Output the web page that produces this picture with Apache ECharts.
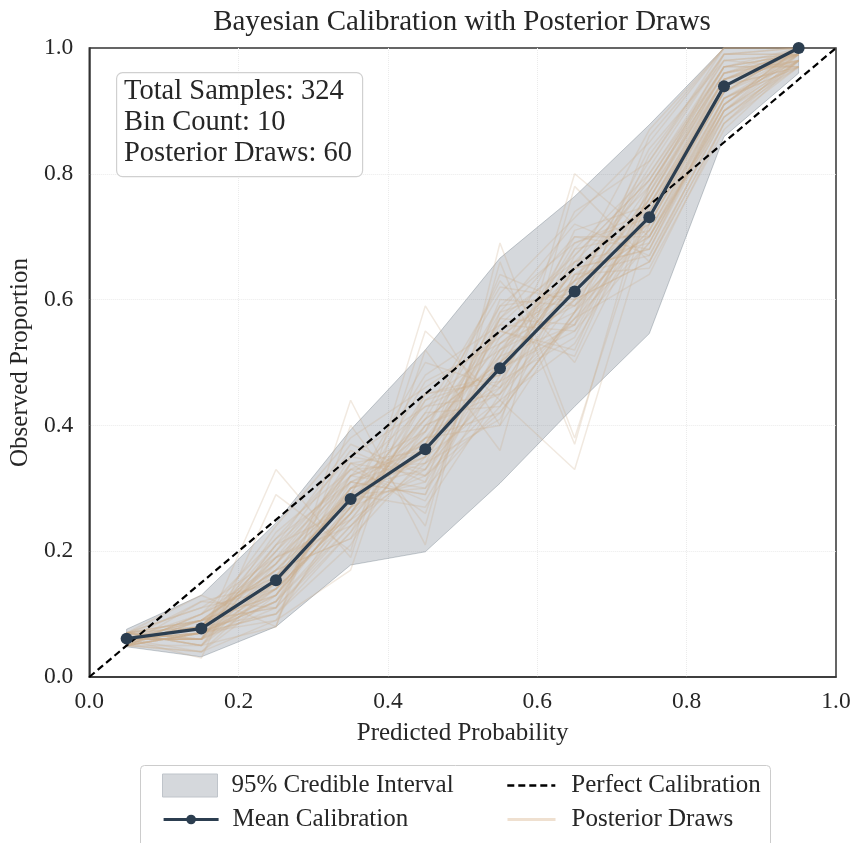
<!DOCTYPE html>
<html>
<head>
<meta charset="utf-8">
<script src="https://cdn.jsdelivr.net/npm/echarts@6/dist/echarts.min.js"></script>
<style>html,body{margin:0;padding:0;background:#fff}#chart{width:854px;height:843px}</style>
</head>
<body>
<div id="chart"></div>
<script>
const binCenters = [0.05,0.15,0.25,0.35,0.45,0.55,0.65,0.75,0.85,0.95];
const meanCalibration = [0.061,0.077,0.154,0.283,0.362,0.491,0.613,0.731,0.939,1.0];
const ciUpper = [0.076,0.130,0.245,0.393,0.520,0.666,0.764,0.878,1.0,1.0];
const ciLower = [0.048,0.032,0.080,0.178,0.199,0.308,0.430,0.546,0.859,0.960];
const perfectX = [0,1];
const tickLabels = ['0.0','0.2','0.4','0.6','0.8','1.0'];
const posteriorDraws = [
[0.06,0.08,0.15,0.29,0.35,0.50,0.60,0.73,0.95,0.99],
[0.05,0.07,0.13,0.27,0.38,0.47,0.63,0.70,0.92,0.98],
[0.07,0.09,0.17,0.30,0.33,0.52,0.58,0.76,0.97,1.00],
[0.06,0.06,0.14,0.25,0.40,0.45,0.66,0.69,0.90,0.97],
[0.05,0.10,0.18,0.32,0.36,0.55,0.61,0.78,0.96,0.99],
[0.06,0.07,0.12,0.28,0.31,0.49,0.56,0.72,0.93,1.00],
[0.07,0.05,0.16,0.26,0.42,0.43,0.64,0.67,0.89,0.98],
[0.06,0.08,0.20,0.31,0.37,0.58,0.62,0.80,0.98,0.99],
[0.05,0.09,0.11,0.24,0.34,0.46,0.57,0.74,0.94,0.97],
[0.06,0.06,0.19,0.33,0.39,0.51,0.68,0.71,0.91,1.00],
[0.07,0.11,0.14,0.29,0.30,0.53,0.59,0.77,0.99,0.99],
[0.06,0.07,0.10,0.23,0.44,0.48,0.65,0.68,0.92,0.98],
[0.05,0.04,0.15,0.34,0.36,0.56,0.55,0.75,0.95,1.00],
[0.06,0.08,0.21,0.27,0.32,0.44,0.67,0.79,0.97,0.97],
[0.07,0.09,0.13,0.30,0.41,0.50,0.60,0.66,0.88,0.99],
[0.06,0.06,0.17,0.22,0.35,0.54,0.63,0.82,1.00,1.00],
[0.05,0.07,0.09,0.28,0.38,0.42,0.58,0.73,0.93,0.98],
[0.06,0.10,0.22,0.31,0.29,0.57,0.70,0.70,0.90,0.99],
[0.07,0.05,0.14,0.26,0.45,0.47,0.54,0.76,0.96,1.00],
[0.06,0.08,0.16,0.35,0.33,0.52,0.66,0.72,0.94,0.97],
[0.05,0.07,0.12,0.25,0.39,0.59,0.61,0.84,0.98,0.99],
[0.06,0.09,0.18,0.29,0.27,0.45,0.57,0.69,0.91,1.00],
[0.07,0.06,0.11,0.32,0.43,0.49,0.69,0.74,0.95,0.98],
[0.06,0.08,0.19,0.24,0.37,0.55,0.52,0.78,0.97,0.99],
[0.05,0.12,0.15,0.30,0.34,0.41,0.64,0.65,0.87,0.98],
[0.06,0.07,0.13,0.27,0.47,0.53,0.62,0.81,0.99,1.00],
[0.07,0.05,0.20,0.36,0.31,0.60,0.59,0.71,0.92,0.97],
[0.06,0.08,0.10,0.21,0.40,0.46,0.71,0.75,0.94,0.99],
[0.05,0.09,0.17,0.28,0.36,0.51,0.56,0.86,1.00,1.00],
[0.06,0.06,0.23,0.33,0.28,0.48,0.65,0.68,0.90,0.98],
[0.07,0.08,0.14,0.26,0.42,0.62,0.60,0.77,0.96,0.99],
[0.06,0.07,0.12,0.31,0.35,0.44,0.53,0.73,0.93,1.00],
[0.05,0.10,0.16,0.29,0.48,0.56,0.67,0.79,0.98,0.97],
[0.06,0.06,0.21,0.37,0.32,0.50,0.63,0.70,0.91,0.99],
[0.07,0.09,0.11,0.23,0.38,0.40,0.58,0.83,0.99,1.00],
[0.06,0.08,0.18,0.34,0.26,0.58,0.72,0.67,0.89,0.98],
[0.05,0.07,0.15,0.27,0.44,0.52,0.61,0.76,0.95,0.99],
[0.06,0.04,0.13,0.30,0.39,0.63,0.50,0.74,0.94,1.00],
[0.07,0.11,0.19,0.25,0.33,0.47,0.68,0.80,0.97,0.97],
[0.06,0.08,0.24,0.38,0.46,0.54,0.64,0.72,0.92,0.99],
[0.05,0.07,0.14,0.32,0.30,0.43,0.57,0.64,0.88,0.98],
[0.06,0.09,0.17,0.28,0.41,0.61,0.73,0.85,1.00,1.00],
[0.07,0.06,0.12,0.24,0.37,0.49,0.55,0.69,0.91,0.99],
[0.06,0.08,0.20,0.33,0.34,0.57,0.66,0.78,0.96,0.98],
[0.05,0.10,0.16,0.29,0.50,0.46,0.62,0.75,0.93,1.00],
[0.06,0.07,0.10,0.26,0.36,0.64,0.59,0.71,0.92,0.97],
[0.07,0.05,0.18,0.31,0.29,0.51,0.74,0.82,0.99,0.99],
[0.06,0.08,0.22,0.35,0.43,0.45,0.60,0.66,0.90,1.00],
[0.05,0.09,0.13,0.27,0.40,0.55,0.51,0.77,0.95,0.98],
[0.06,0.06,0.15,0.30,0.35,0.59,0.69,0.73,0.94,0.99],
[0.07,0.08,0.17,0.22,0.45,0.48,0.65,0.87,1.00,1.00],
[0.06,0.12,0.11,0.34,0.32,0.42,0.58,0.70,0.89,0.97],
[0.05,0.07,0.19,0.29,0.38,0.53,0.63,0.79,0.97,0.99],
[0.06,0.09,0.14,0.26,0.41,0.50,0.70,0.68,0.91,1.00],
[0.07,0.06,0.21,0.32,0.37,0.57,0.56,0.76,0.96,0.98],
[0.06,0.06,0.33,0.19,0.55,0.44,0.33,0.72,0.93,0.99],
[0.05,0.05,0.08,0.44,0.21,0.69,0.38,0.75,0.95,1.00],
[0.06,0.03,0.29,0.20,0.59,0.40,0.80,0.70,0.90,0.98],
[0.07,0.13,0.08,0.40,0.24,0.66,0.37,0.78,0.97,0.99],
[0.05,0.04,0.09,0.17,0.52,0.36,0.78,0.66,0.88,0.97]
];
const annotationLines = ['Total Samples: 324','Bin Count: 10','Posterior Draws: 60'];

const FONT = '"Liberation Serif","DejaVu Serif",serif';
const TEXT = '#262626';
const chart = echarts.init(document.getElementById('chart'), null, {renderer:'canvas'});

const bandColor = 'rgba(44,62,80,0.2)';
const drawColor = 'rgba(205,175,140,0.27)';

const series = [];
series.push({
  name: '95% Credible Interval',
  type: 'custom',
  z: 1,
  clip: true,
  data: [[binCenters[0], ciLower[0]]],
  renderItem: function(params, api) {
    const pts = [];
    for (let i = 0; i < binCenters.length; i++) pts.push(api.coord([binCenters[i], ciUpper[i]]));
    for (let i = binCenters.length - 1; i >= 0; i--) pts.push(api.coord([binCenters[i], ciLower[i]]));
    return { type: 'polygon', shape: { points: pts }, style: { fill: bandColor, stroke: 'rgba(44,62,80,0.25)', lineWidth: 1 } };
  },
  itemStyle: { color: bandColor }
});
posteriorDraws.forEach(function(d) {
  series.push({
    name: 'Posterior Draws',
    type: 'line',
    z: 2,
    silent: true,
    symbol: 'none',
    data: binCenters.map(function(x, i) { return [x, d[i]]; }),
    lineStyle: { color: drawColor, width: 1.5 },
    itemStyle: { color: drawColor }
  });
});
series.push({
  name: 'Perfect Calibration',
  type: 'line',
  z: 3,
  symbol: 'none',
  data: perfectX.map(function(x) { return [x, x]; }),
  lineStyle: { color: '#000', width: 2.2, type: [7, 4] },
  itemStyle: { color: '#000' }
});
series.push({
  name: 'Mean Calibration',
  type: 'line',
  z: 4,
  symbol: 'circle',
  symbolSize: 12,
  data: binCenters.map(function(x, i) { return [x, meanCalibration[i]]; }),
  lineStyle: { color: '#2c3e50', width: 3.2 },
  itemStyle: { color: '#2c3e50' }
});

function legendText(pad) { return { fontFamily: FONT, fontSize: 25, color: TEXT, padding: [0, 0, 0, pad] }; }

chart.setOption({
  animation: false,
  backgroundColor: '#fff',
  title: {
    text: 'Bayesian Calibration with Posterior Draws',
    left: 457, top: 3, textAlign: 'center',
    textStyle: { fontFamily: FONT, fontSize: 29, fontWeight: 'normal', color: TEXT }
  },
  grid: { left: 86, right: 18, top: 48, bottom: 166, show: true, borderColor: '#333', borderWidth: 1.5, backgroundColor: 'transparent' },
  xAxis: {
    type: 'value', min: 0, max: 1, interval: 0.2,
    name: 'Predicted Probability', nameLocation: 'middle', nameGap: 44,
    nameTextStyle: { fontFamily: FONT, fontSize: 25, color: TEXT },
    axisLine: { show: true, lineStyle: { color: '#333', width: 1.5 } },
    axisTick: { show: false },
    axisLabel: { fontFamily: FONT, fontSize: 23.5, color: TEXT, margin: 13,
      formatter: function(v) { return tickLabels[Math.round(v * 5)]; } },
    splitLine: { show: true, showMinLine: false, showMaxLine: false, lineStyle: { color: '#ebebeb', type: 'dotted', width: 1 } }
  },
  yAxis: {
    type: 'value', min: 0, max: 1, interval: 0.2,
    name: 'Observed Proportion', nameLocation: 'middle', nameGap: 56,
    nameTextStyle: { fontFamily: FONT, fontSize: 25, color: TEXT },
    axisLine: { show: true, lineStyle: { color: '#333', width: 1.5 } },
    axisTick: { show: false },
    axisLabel: { fontFamily: FONT, fontSize: 23.5, color: TEXT, margin: 16,
      formatter: function(v) { return tickLabels[Math.round(v * 5)]; } },
    splitLine: { show: true, showMinLine: false, showMaxLine: false, lineStyle: { color: '#ebebeb', type: 'dotted', width: 1 } }
  },
  legend: [
    {
      left: 157, top: 768, itemWidth: 55, itemHeight: 23,
      textStyle: legendText(9), selectedMode: false,
      data: [{ name: '95% Credible Interval', icon: 'rect', itemStyle: { color: '#d5d8dc', borderColor: '#bfc4ca', borderWidth: 1 } }]
    },
    {
      left: 157, top: 802, itemWidth: 55, itemHeight: 12,
      textStyle: legendText(9), selectedMode: false,
      data: [{ name: 'Mean Calibration', lineStyle: { width: 3.2 } }]
    },
    {
      left: 501, top: 768, itemWidth: 48, itemHeight: 23,
      textStyle: legendText(11), selectedMode: false,
      data: [{ name: 'Perfect Calibration', itemStyle: { opacity: 0 }, lineStyle: { width: 2.6 } }]
    },
    {
      left: 501, top: 802, itemWidth: 48, itemHeight: 23,
      textStyle: legendText(11), selectedMode: false,
      data: [{ name: 'Posterior Draws', itemStyle: { opacity: 0 }, lineStyle: { color: '#efe0d0', width: 3 } }]
    }
  ],
  graphic: [
    { type: 'rect', left: 140, top: 765, shape: { width: 630, height: 82, r: 4 }, style: { fill: 'rgba(255,255,255,0.8)', stroke: '#cccccc', lineWidth: 1 }, z: -1 },
    { type: 'rect', left: 116, top: 72, shape: { width: 246, height: 104, r: 6 }, style: { fill: 'rgba(255,255,255,0.85)', stroke: '#d0d0d0', lineWidth: 1.2 }, z: 10 },
    { type: 'text', left: 124, top: 76, z: 11, style: { text: annotationLines.join('\n'), font: '28.5px ' + FONT, fill: TEXT, lineHeight: 31 } }
  ],
  series: series
});
</script>
</body>
</html>
